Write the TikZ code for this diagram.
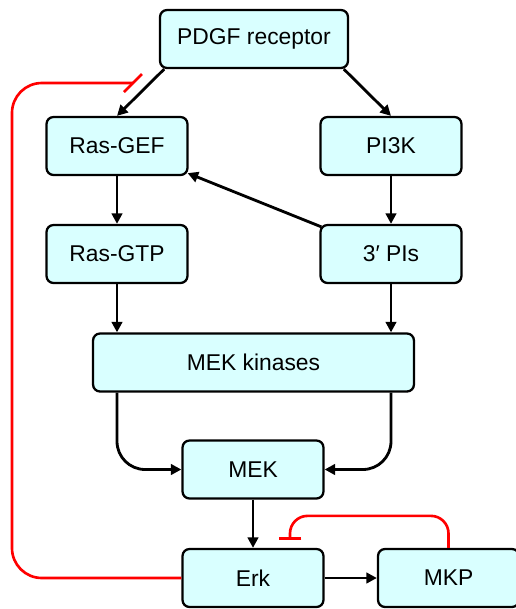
\documentclass[tikz,border=0pt]{standalone}
\usepackage{fontspec}
\setmainfont{Liberation Sans}
\usetikzlibrary{arrows.meta}
\definecolor{boxfill}{RGB}{217,255,255}

\begin{document}
\begin{tikzpicture}[x=0.02cm,y=-0.02cm,>={Triangle[length=6pt,width=6pt]},
  box/.style={draw,line width=1.3pt,rounded corners=4pt,fill=boxfill,minimum width=2.82cm,
    minimum height=1.16cm,font=\fontsize{13}{15}\selectfont},
  act/.style={->,line width=1.6pt},
  inh/.style={red,line width=1.5pt}]
  \useasboundingbox (0,0) rectangle (515,609);
  \node[box,minimum width=3.76cm] (pdgf) at (254,39) {PDGF receptor};
  \node[box] (rasgef) at (117,146) {Ras-GEF};
  \node[box] (pi3k) at (391,146) {PI3K};
  \node[box] (rasgtp) at (117,254) {Ras-GTP};
  \node[box] (pis) at (391,254) {3′ PIs};
  \node[box,minimum width=6.42cm] (mekk) at (253.5,362.5) {MEK kinases};
  \node[box] (mek) at (253,469.5) {MEK};
  \node[box] (erk) at (253,578) {Erk};
  \node[box] (mkp) at (448.5,578) {MKP};
  \coordinate (fb1) at (133,83);
  \coordinate (fb2) at (290,540);

  \draw[act] ([xshift=3]pdgf.south west) -- (rasgef.north);
  \draw[act] ([xshift=-3]pdgf.south east) -- (pi3k.north);
  \draw[act] (rasgef.south) -- (rasgtp.north);
  \draw[act] (pi3k.south) -- (pis.north);
  \draw[act] ([shift={(2,3)}]pis.north west) -- ([shift={(-1,-3)}]rasgef.south east);
  \draw[act] (rasgtp.south) -- (rasgtp.south |- mekk.north);
  \draw[act] (pis.south) -- (pis.south |- mekk.north);
  \draw[act] (mek.south) -- (erk.north);
  \draw[act] (erk.east) -- (mkp.west);
  \draw[act,rounded corners=16pt] (mekk.south -| rasgtp) |- (mek);
  \draw[act,rounded corners=16pt] (mekk.south -| pis) |- (mek);

  % feedback
  \draw[inh,rounded corners=17pt] (erk.west) -| (12,83) -- (fb1);
  \draw[inh] ([shift={(-9,9)}]fb1) -- ([shift={(9,-9)}]fb1);
  \draw[inh,-{Bar[width=13pt]},rounded corners=10pt] (mkp.north) -- ++(0,-32) -| (fb2);
\end{tikzpicture}
\end{document}
